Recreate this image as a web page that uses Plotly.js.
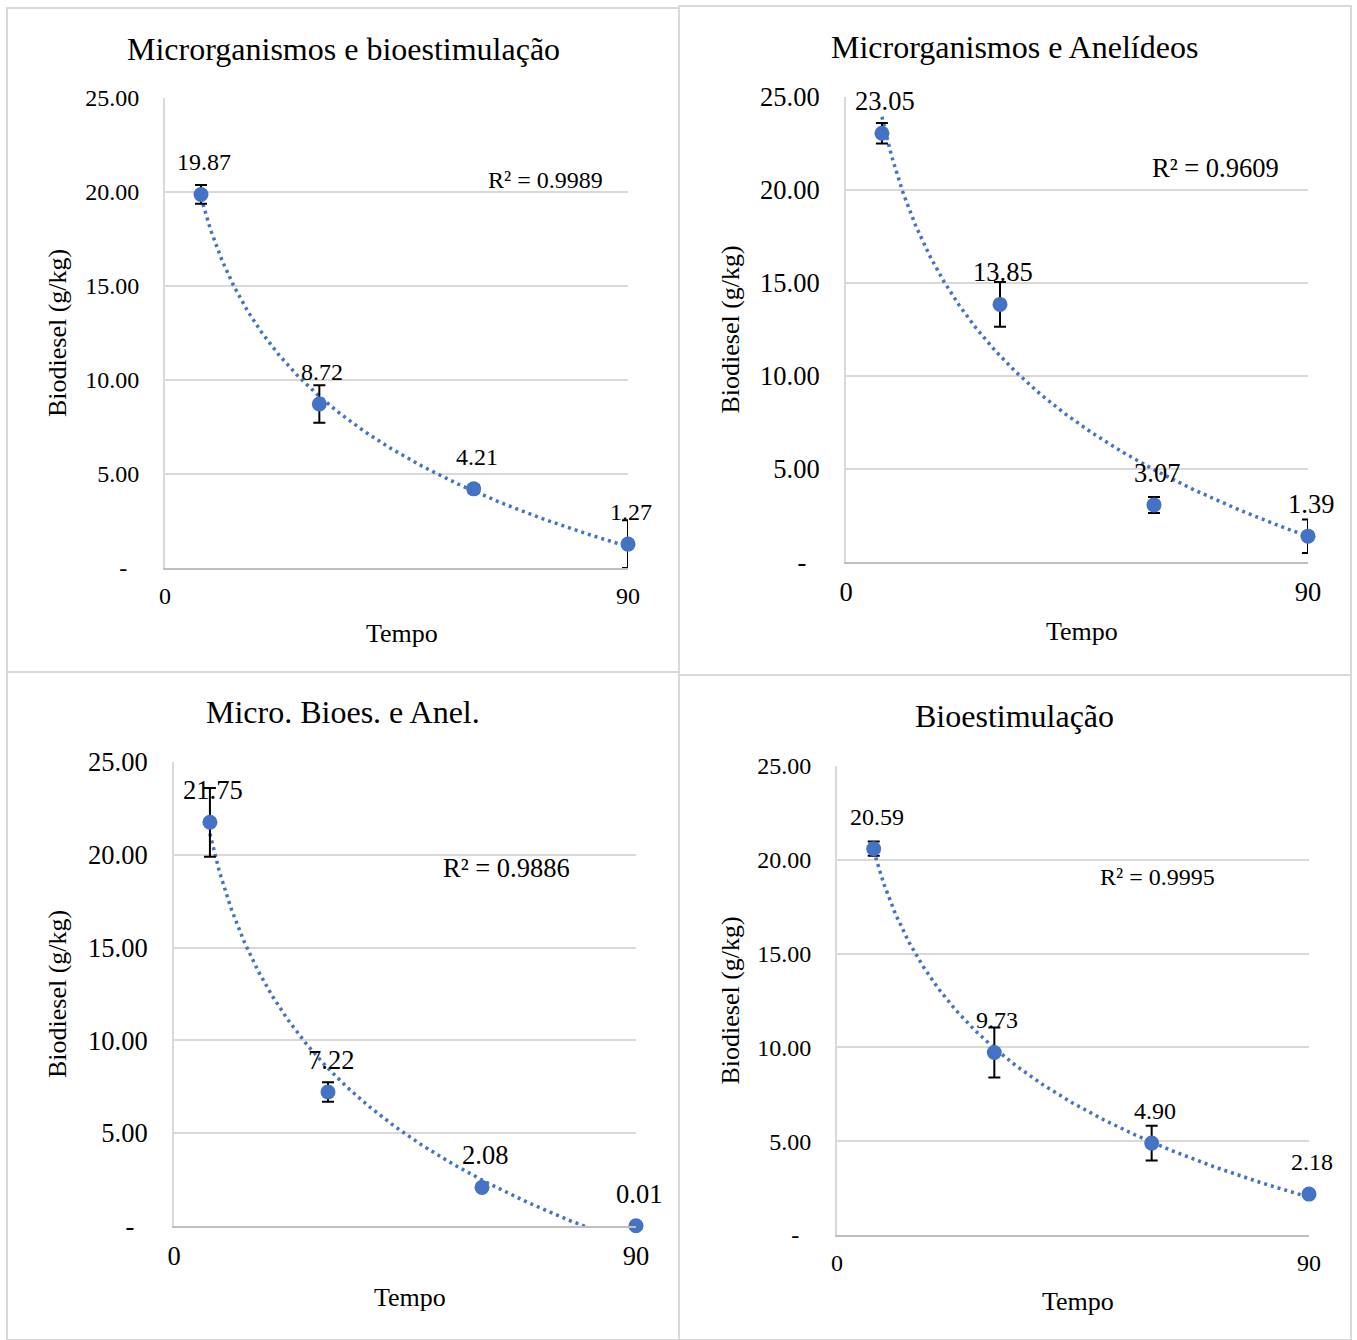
<!DOCTYPE html>
<html>
<head>
<meta charset="utf-8">
<script src="https://cdn.plot.ly/plotly-3.0.1.min.js"></script>
<style>html,body{margin:0;padding:0;background:#fff;}#chart{width:1357px;height:1340px;}</style>
</head>
<body>
<div id="chart"></div>
<script>
// ---- data ----
const tempo = [7, 30, 60, 90];
const xTickVals = [0, 90];
const xTickText = ['0', '90'];
const yTickVals = [0, 5, 10, 15, 20, 25];
const yTickText = ['-\u00A0\u00A0', '5.00', '10.00', '15.00', '20.00', '25.00'];

const titles = ['Microrganismos e bioestimulação', 'Microrganismos e Anelídeos', 'Micro. Bioes. e Anel.', 'Bioestimulação'];
const r2Labels = ['R² = 0.9989', 'R² = 0.9609', 'R² = 0.9886', 'R² = 0.9995'];

const bioMicroBio = [19.87, 8.72, 4.21, 1.27];
const errMicroBio = [0.5, 1.0, 0.2, 1.27];
const bioMicroAnel = [23.05, 13.85, 3.07, 1.39];
const errMicroAnel = [0.55, 1.2, 0.43, 0.9];
const bioMicroBioAnel = [21.75, 7.22, 2.08, 0.01];
const errMicroBioAnel = [1.85, 0.52, 0.1, 0.0];
const bioBioest = [20.59, 9.73, 4.90, 2.18];
const errBioest = [0.38, 1.33, 0.93, 0.1];

const labelsMicroBio = ['19.87', '8.72', '4.21', '1.27'];
const labelsMicroAnel = ['23.05', '13.85', '3.07', '1.39'];
const labelsMicroBioAnel = ['21.75', '7.22', '2.08', '0.01'];
const labelsBioest = ['20.59', '9.73', '4.90', '2.18'];

// ---- layout geometry (pixels) ----
const W = 1357, H = 1340;
const px = v => v / W;
const py = v => 1 - v / H;
const panels = [
  {y: bioMicroBio, err: errMicroBio, lab: labelsMicroBio, box: [165, 628, 98, 568], frame: [7, 679, 8, 672], fs: 24, titleY: 49, titleX: 343, yTitleX: 57, xTitleY: 633, r2: [0.821, 0.826]},
  {y: bioMicroAnel, err: errMicroAnel, lab: labelsMicroAnel, box: [846, 1308, 97, 562], frame: [679, 1351, 6, 675], fs: 26.5, titleY: 47, titleX: 1015, yTitleX: 730, xTitleY: 631, r2: [0.80, 0.847]},
  {y: bioMicroBioAnel, err: errMicroBioAnel, lab: labelsMicroBioAnel, box: [174, 636, 762, 1226], frame: [7, 679, 672, 1340], fs: 26.5, titleY: 712, titleX: 343, yTitleX: 57, xTitleY: 1297, r2: [0.719, 0.772]},
  {y: bioBioest, err: errBioest, lab: labelsBioest, box: [837, 1309, 766, 1235], frame: [679, 1351, 675, 1340], fs: 24, titleY: 716, titleX: 1015, yTitleX: 730, xTitleY: 1301, r2: [0.678, 0.763]}
];

const FONT = 'Liberation Serif, Times New Roman, serif';
const BLUE = '#4472C4';
const traces = [];
const layout = {
  width: W, height: H,
  margin: {l: 0, r: 0, t: 0, b: 0},
  paper_bgcolor: '#fff', plot_bgcolor: '#fff',
  showlegend: false,
  font: {family: FONT, color: '#000'},
  annotations: [], shapes: []
};

function logFit(xs, ys) {
  const lx = xs.map(Math.log);
  const n = xs.length;
  const mx = lx.reduce((a, b) => a + b, 0) / n;
  const my = ys.reduce((a, b) => a + b, 0) / n;
  let sxy = 0, sxx = 0;
  for (let i = 0; i < n; i++) { sxy += (lx[i] - mx) * (ys[i] - my); sxx += (lx[i] - mx) ** 2; }
  const a = sxy / sxx;
  return {a: a, b: my - a * mx};
}

function txt(obj) {
  return Object.assign({showarrow: false, xanchor: 'center', yanchor: 'middle'}, obj);
}

panels.forEach((p, i) => {
  const k = i === 0 ? '' : String(i + 1);
  const xa = 'x' + k, ya = 'y' + k;
  const [x0, x1, yt, yb] = p.box;

  // trendline (logarithmic least-squares fit of the data)
  const fit = logFit(tempo, p.y);
  const tx = [], ty = [];
  const xmin = Math.min(...tempo), xmax = Math.max(...tempo);
  for (let t = xmin; t <= xmax + 1e-9; t += 0.25) { tx.push(t); ty.push(fit.a * Math.log(t) + fit.b); }
  traces.push({x: tx, y: ty, xaxis: xa, yaxis: ya, mode: 'lines', type: 'scatter',
    line: {color: BLUE, width: 3.5, dash: '3px,4px'}, hoverinfo: 'skip'});

  traces.push({x: tempo, y: p.y, xaxis: xa, yaxis: ya, mode: 'markers', type: 'scatter',
    marker: {color: BLUE, size: 15}, cliponaxis: false,
    error_y: {type: 'data', array: p.err, visible: true, color: '#000', thickness: 2, width: 6}});

  p.lab.forEach((t, j) => {
    layout.annotations.push(txt({xref: xa, yref: ya, x: tempo[j], y: p.y[j], text: t,
      yshift: 32, xshift: 3, font: {family: FONT, size: p.fs, color: '#000'}}));
  });

  layout.annotations.push(txt({xref: xa + ' domain', yref: ya + ' domain', x: p.r2[0], y: p.r2[1], text: r2Labels[i],
    font: {family: FONT, size: p.fs, color: '#000'}}));

  layout.annotations.push(txt({xref: 'paper', yref: 'paper', x: px(p.titleX), y: py(p.titleY), text: titles[i],
    font: {family: FONT, size: 32, color: '#000'}}));
  layout.annotations.push(txt({xref: 'paper', yref: 'paper', x: px((x0 + x1) / 2 + 5), y: py(p.xTitleY), text: 'Tempo',
    font: {family: FONT, size: 26, color: '#000'}}));
  layout.annotations.push(txt({xref: 'paper', yref: 'paper', x: px(p.yTitleX), y: py((yt + yb) / 2), text: 'Biodiesel (g/kg)',
    textangle: -90, font: {family: FONT, size: 26, color: '#000'}}));

  layout.shapes.push({type: 'rect', xref: 'paper', yref: 'paper', x0: px(p.frame[0]), x1: px(p.frame[1]),
    y0: py(p.frame[3]), y1: py(p.frame[2]), line: {color: '#d9d9d9', width: 2}, fillcolor: 'rgba(0,0,0,0)', layer: 'below'});

  layout['xaxis' + k] = {domain: [px(x0), px(x1)], anchor: ya, range: [0, 90], tickvals: xTickVals, ticktext: xTickText,
    showgrid: true, gridcolor: '#d9d9d9', gridwidth: 2, zeroline: false, showline: true, linecolor: '#bfbfbf', linewidth: 2,
    ticks: '', ticklabelstandoff: 5, tickfont: {family: FONT, size: p.fs, color: '#000'}, fixedrange: true};
  layout['yaxis' + k] = {domain: [py(yb), py(yt)], anchor: xa, range: [0, 25], tickvals: yTickVals, ticktext: yTickText,
    showgrid: true, gridcolor: '#d9d9d9', gridwidth: 2, zeroline: false, showline: true, linecolor: '#d9d9d9', linewidth: 2,
    ticks: '', ticklabelstandoff: 19, tickfont: {family: FONT, size: p.fs, color: '#000'}, fixedrange: true};
});

Plotly.newPlot('chart', traces, layout, {staticPlot: true, displayModeBar: false});
</script>
</body>
</html>
